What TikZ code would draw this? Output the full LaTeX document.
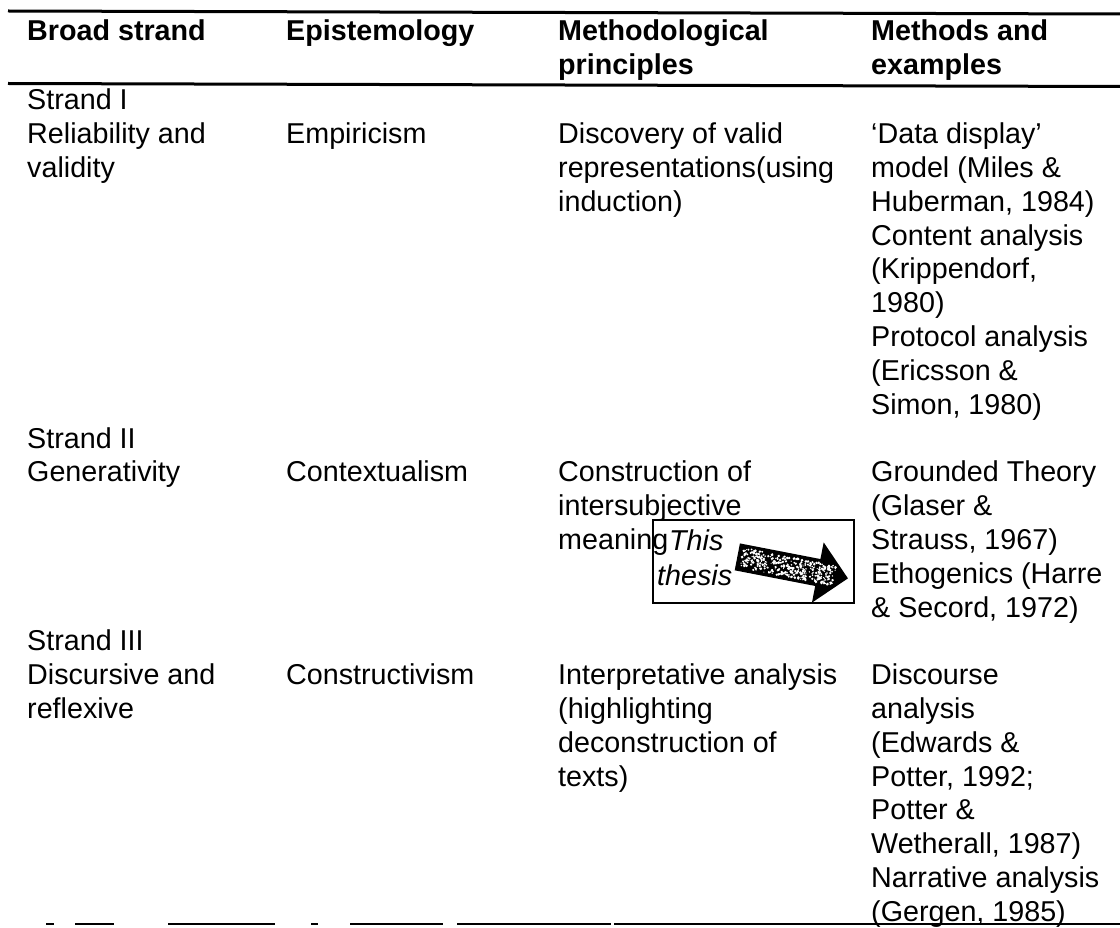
\documentclass[tikz,border=0pt]{standalone}
\usepackage{fontspec}
\setmainfont{Liberation Sans}
\newcommand\celltext[1]{\begin{tabular}[t]{@{}l@{}}#1\end{tabular}}
\begin{document}
\begin{tikzpicture}[x=1pt,y=-1pt,
  cell/.style={anchor=base west, inner sep=0pt, font=\fontsize{28.7}{33.8}\selectfont},
  headcell/.style={cell, font=\fontsize{28.7}{33.8}\selectfont\bfseries},
  notecell/.style={cell, font=\fontsize{28.7}{34.5}\selectfont\itshape},
  tablerule/.style={line width=3pt},
]
\useasboundingbox (0,0) rectangle (1120,928);

% rules of the table
\coordinate (topL) at (8,11);    \coordinate (topR) at (1120,14);
\coordinate (midL) at (8,83.5);  \coordinate (midR) at (1120,86.5);
\draw[tablerule] (topL) -- (topR);
\draw[tablerule] (midL) -- (midR);
% bottom rule, broken in places
\foreach \a/\b/\w in {46/54/1.4, 75/114/1.6, 168/275/1.8, 311/318/1.4, 350/443/1.8, 457/611/2.4, 614/1120/2.6}
  \draw[line width=\w pt] (\a,924) -- (\b,924);

% header row
\node[headcell] (h1) at (27,41) {Broad strand};
\node[headcell] (h2) at (286,41) {Epistemology};
\node[headcell] (h3) at (558,41) {\celltext{Methodological\\principles}};
\node[headcell] (h4) at (871,41) {\celltext{Methods and\\examples}};

% strand I
\node[cell] (s1a) at (27,110) {\celltext{Strand I\\Reliability and\\validity}};
\node[cell] (s1b) at (286,143.8) {Empiricism};
\node[cell] (s1c) at (558,143.8) {\celltext{Discovery of valid\\representations(using\\induction)}};
\node[cell] (s1d) at (871,143.8) {\celltext{`Data display'\\model (Miles \&\\Huberman, 1984)\\Content analysis\\(Krippendorf,\\1980)\\Protocol analysis\\(Ericsson \&\\Simon, 1980)}};

% strand II
\node[cell] (s2a) at (27,448) {\celltext{Strand II\\Generativity}};
\node[cell] (s2b) at (286,481.8) {Contextualism};
\node[cell] (s2c) at (558,481.8) {\celltext{Construction of\\intersubjective\\meaning}};
\node[cell] (s2d) at (871,481.8) {\celltext{Grounded Theory\\(Glaser \&\\Strauss, 1967)\\Ethogenics (Harre\\\& Secord, 1972)}};

% strand III
\node[cell] (s3a) at (27,650.8) {\celltext{Strand III\\Discursive and\\reflexive}};
\node[cell] (s3b) at (286,684.6) {Constructivism};
\node[cell] (s3c) at (558,684.6) {\celltext{Interpretative analysis\\(highlighting\\deconstruction of\\texts)}};
\node[cell] (s3d) at (871,684.6) {\celltext{Discourse\\analysis\\(Edwards \&\\Potter, 1992;\\Potter \&\\Wetherall, 1987)\\Narrative analysis\\(Gergen, 1985)}};

% the "This thesis" text box with its block arrow
\node[draw, line width=1.5pt, minimum width=201pt, minimum height=83pt, inner sep=0pt, anchor=north west] (thesisbox) at (652,519) {};
\node[notecell] (this) at (669,550) {This};
\node[notecell] (thesis) at (657,585) {thesis};
\begin{scope}[shift={(738,557)}, rotate=-11]
  \def\arrowshape{(0,-13) -- (82,-13) -- (82,-29) -- (111,0) -- (82,29) -- (82,13) -- (0,13) -- cycle}
  \path[fill=black] \arrowshape;
  \begin{scope}
    \clip \arrowshape;
    \pgfmathsetseed{17}
    \foreach \k in {1,...,380}{
      \pgfmathsetmacro\px{4+rnd*94}
      \pgfmathsetmacro\py{(rnd-0.5)*20}
      \pgfmathsetmacro\pr{0.5+rnd*1.0}
      \fill[white] (\px,\py) circle (\pr pt);
    }
  \end{scope}
  \draw[line width=1.4pt, line join=miter] \arrowshape;
\end{scope}
\end{tikzpicture}
\end{document}
